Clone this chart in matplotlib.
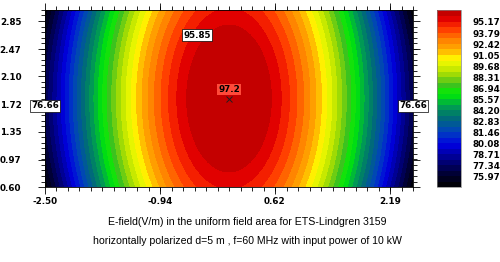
import numpy as np
import matplotlib
matplotlib.use("Agg")
import matplotlib.pyplot as plt
from matplotlib.colors import LinearSegmentedColormap, ListedColormap, BoundaryNorm
from matplotlib.ticker import FixedLocator

# =========================
# Values
# =========================
X_TICKS = [-2.50, -0.94, 0.62, 2.19]
Y_TICKS = [0.60, 0.97, 1.35, 1.72, 2.10, 2.47, 2.85]
CBAR_TICKS = [75.97, 77.34, 78.71, 80.08, 81.46, 82.83, 84.20, 85.57,
              86.94, 88.31, 89.68, 91.05, 92.42, 93.79, 95.17]

X_RANGE = (-2.5, 2.5)
Y_RANGE = (0.6, 3.0)

PEAK_VALUE = 97.2       # maximum, marked with an x
PEAK_X = 0.0
PEAK_Y = 1.80
EDGE_VALUE = 76.66      # value on the left/right edge at the peak height
TOP_LABEL_VALUE = 95.85

# field shape (drop from the peak along x and along y)
AX2, AX4 = 4.1, 0.131
AY2 = 1.36

LEVEL_START = 74.60
LEVEL_STEP = 0.6857
N_LEVELS = 34
CBAR_TOP = 96.67

# colour anchors (fraction, colour)
CMAP_ANCHORS = [
    (0.00, "#000000"), (0.07, "#000030"), (0.15, "#000080"),
    (0.24, "#0000e0"), (0.31, "#0040c0"), (0.40, "#007070"),
    (0.46, "#00a050"), (0.53, "#00f000"), (0.58, "#40c020"),
    (0.65, "#b0e000"), (0.72, "#ffff00"), (0.77, "#ffb000"),
    (0.83, "#ff8000"), (0.90, "#ff3000"), (0.95, "#e00000"),
    (0.97, "#c40000"), (1.00, "#c40000"),
]

CAPTION = ["E-field(V/m) in the uniform field area for ETS-Lindgren 3159",
           "horizontally polarized d=5 m , f=60 MHz with input power of 10 kW"]


def field(x, y):
    dx = x - PEAK_X
    dy = y - PEAK_Y
    return PEAK_VALUE - AX2 * dx ** 2 + AX4 * dx ** 4 - AY2 * dy ** 2


def main():
    fig = plt.figure(figsize=(5.0, 2.62), dpi=100)
    ax = fig.add_axes([0.09, 0.286, 0.736, 0.676])
    cax = fig.add_axes([0.874, 0.286, 0.048, 0.676])

    xs = np.linspace(X_RANGE[0], X_RANGE[1], 400)
    ys = np.linspace(Y_RANGE[0], Y_RANGE[1], 200)
    X, Y = np.meshgrid(xs, ys)
    Z = field(X, Y)

    levels = LEVEL_START + LEVEL_STEP * np.arange(N_LEVELS)
    base = LinearSegmentedColormap.from_list("field", CMAP_ANCHORS)
    mids = (levels[:-1] + levels[1:]) / 2
    colors = [base(min(1.0, (m - LEVEL_START) / (CBAR_TOP - LEVEL_START)))
              for m in mids]
    cmap = ListedColormap(colors)
    norm = BoundaryNorm(levels, cmap.N)

    cs = ax.contourf(X, Y, Z, levels=levels, cmap=cmap, norm=norm)
    ax.set_xlim(*X_RANGE)
    ax.set_ylim(*Y_RANGE)

    ax.xaxis.set_major_locator(FixedLocator(X_TICKS))
    ax.yaxis.set_major_locator(FixedLocator(Y_TICKS))
    ax.set_xticklabels([f"{v:.2f}" for v in X_TICKS])
    ax.set_yticklabels([f"{v:.2f}" for v in Y_TICKS])
    ax.xaxis.set_minor_locator(FixedLocator(np.arange(-2.5, 2.51, 0.15625)))
    ax.yaxis.set_minor_locator(FixedLocator(np.arange(0.6, 3.01, 0.075)))
    ax.tick_params(which="both", direction="out", top=True, right=True,
                   labelsize=6.3, width=0.6)
    ax.tick_params(which="major", length=5)
    ax.tick_params(which="minor", length=3)
    ax.tick_params(axis="y", pad=12)
    ax.tick_params(axis="x", pad=2)
    for lab in ax.get_xticklabels() + ax.get_yticklabels():
        lab.set_fontweight("bold")
    for sp in ax.spines.values():
        sp.set_linewidth(0.6)

    # labels on the map
    box = dict(boxstyle="square,pad=0.15", facecolor="white",
               edgecolor="black", linewidth=0.5)
    ax.text(-0.43, 2.66, f"{TOP_LABEL_VALUE:.2f}", fontsize=6.3, fontweight="bold",
            ha="center", va="center", bbox=box)
    ax.text(X_RANGE[0], 1.70, f"{EDGE_VALUE:.2f}", fontsize=6.3, fontweight="bold",
            ha="center", va="center", bbox=box)
    ax.text(X_RANGE[1], 1.70, f"{EDGE_VALUE:.2f}", fontsize=6.3, fontweight="bold",
            ha="center", va="center", bbox=box)
    ax.text(PEAK_X, 1.92, f"{PEAK_VALUE}", fontsize=6.3, fontweight="bold",
            ha="center", va="center",
            bbox=dict(boxstyle="square,pad=0.15", facecolor="#ff4a3a",
                      edgecolor="none"))
    ax.plot([PEAK_X], [PEAK_Y], marker="x", color="#202020",
            markersize=4, markeredgewidth=0.7)

    cbar = fig.colorbar(cs, cax=cax)
    cbar.set_ticks(CBAR_TICKS)
    cbar.set_ticklabels([f"{v:.2f}" for v in CBAR_TICKS])
    cax.set_ylim(LEVEL_START, CBAR_TOP)
    cax.tick_params(length=0, labelsize=6.3, pad=8)
    cax.minorticks_off()
    for lab in cax.get_yticklabels():
        lab.set_fontweight("bold")
    cbar.outline.set_linewidth(0.5)
    cbar.outline.set_edgecolor("#808080")

    fig.text(0.495, 0.153, CAPTION[0], ha="center", va="center",
             fontsize=7.6, family="Liberation Sans")
    fig.text(0.495, 0.08, CAPTION[1], ha="center", va="center",
             fontsize=7.6, family="Liberation Sans")

    fig.savefig("out.png", dpi=100)
    plt.close(fig)


if __name__ == "__main__":
    main()
